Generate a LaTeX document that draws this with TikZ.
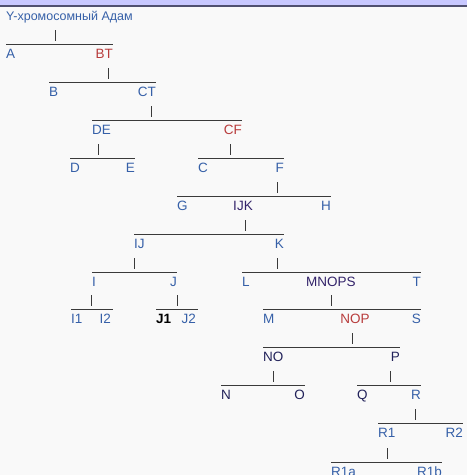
\documentclass[tikz,border=0pt]{standalone}
\usepackage{fontspec}
\setmainfont{Liberation Sans}
\definecolor{lblue}{HTML}{3660A8}
\definecolor{lred}{HTML}{B83C3C}
\definecolor{lnavy}{HTML}{22225A}
\definecolor{lpurp}{HTML}{33236A}
\definecolor{lineg}{HTML}{3A3A3A}
\definecolor{bg}{HTML}{F9F9F9}
\definecolor{bar}{HTML}{C8C8FF}
\definecolor{barline}{HTML}{505070}
\tikzset{
  lab/.style={inner sep=0pt, font=\fontsize{13.5}{15}\selectfont},
  lft/.style={lab, anchor=base west},
  rgt/.style={lab, anchor=base east},
  mid/.style={lab, anchor=base},
  hline/.style={draw=lineg, line width=1pt},
  tick/.style={draw=lineg, line width=1pt},
}
\newcommand{\brk}[8]{% name, y, x1, x2, leftlabel, leftcolor, rightlabel, rightcolor
  \coordinate (#1l) at (#3,#2);
  \coordinate (#1r) at (#4,#2);
  \draw[hline] (#1l) -- (#1r);
  \node[lft, text=#6] (#1a) at (#3,#2+14.5) {#5};
  \node[rgt, text=#8] (#1b) at (#4,#2+14.5) {#7};
}
\newcommand{\tk}[3]{% name, x, liney
  \coordinate (#1t) at (#2,#3-14);
  \coordinate (#1u) at (#2,#3-3);
  \draw[tick] (#1t) -- (#1u);
}
\begin{document}
\begin{tikzpicture}[x=1pt,y=-1pt]
\fill[bg] (0,0) rectangle (467,475);
\useasboundingbox (0,0) rectangle (467,475);
\fill[bar] (0,0) rectangle (467,5);
\fill[barline] (0,5) rectangle (467,6.8);
\node[inner sep=0pt, anchor=base west, text=lblue, font=\fontsize{12.5}{14}\selectfont] (title) at (6,20.5) {Y-хромосомный Адам};
\tk{t1}{55}{44}
\brk{L1}{44}{6}{113}{A}{lblue}{BT}{lred}
\tk{t2}{108}{82}
\brk{L2}{82}{49}{156}{B}{lblue}{CT}{lblue}
\tk{t3}{151}{120}
\brk{L3}{120}{92}{242}{DE}{lblue}{CF}{lred}
\tk{t4}{98}{158}
\brk{L4}{158}{70}{135}{D}{lblue}{E}{lblue}
\tk{t5}{230}{158}
\brk{L5}{158}{198}{284}{C}{lblue}{F}{lblue}
\tk{t6}{277}{196}
\brk{L6}{196}{177}{331}{G}{lblue}{H}{lblue}
\node[mid, text=lpurp] (IJK) at (243,210.5) {IJK};
\tk{t7}{245}{234}
\brk{L7}{234}{134}{284}{IJ}{lblue}{K}{lblue}
\tk{t8}{134}{272}
\brk{L8}{272}{92}{177}{I}{lblue}{J}{lblue}
\tk{t9}{277}{272}
\brk{L9}{272}{242}{421}{L}{lblue}{T}{lblue}
\node[mid, text=lpurp] (MNOPS) at (331,286.5) {MNOPS};
\tk{t10}{91}{309}
\brk{L10}{309}{71}{111}{I1}{lblue}{I2}{lblue}
\draw[hline] (L10r) -- ++(2,0);
\tk{t11}{177}{309}
\brk{L11}{309}{156}{196}{\textbf{J1}}{black}{J2}{lblue}
\draw[hline] (L11r) -- ++(2,0);
\tk{t12}{331}{309}
\brk{L12}{309}{263}{421}{M}{lblue}{S}{lblue}
\node[mid, text=lred] (NOP) at (355,323.5) {NOP};
\tk{t13}{352}{347}
\brk{L13}{347}{263}{400}{NO}{lnavy}{P}{lnavy}
\tk{t14}{273}{385}
\brk{L14}{385}{221}{305}{N}{lnavy}{O}{lnavy}
\tk{t15}{390}{385}
\brk{L15}{385}{357}{421}{Q}{lnavy}{R}{lblue}
\tk{t16}{415}{423}
\brk{L16}{423}{378}{463}{R1}{lblue}{R2}{lblue}
\tk{t17}{387}{462}
\brk{L17}{462}{331}{442}{R1a}{lblue}{R1b}{lblue}
\end{tikzpicture}
\end{document}
